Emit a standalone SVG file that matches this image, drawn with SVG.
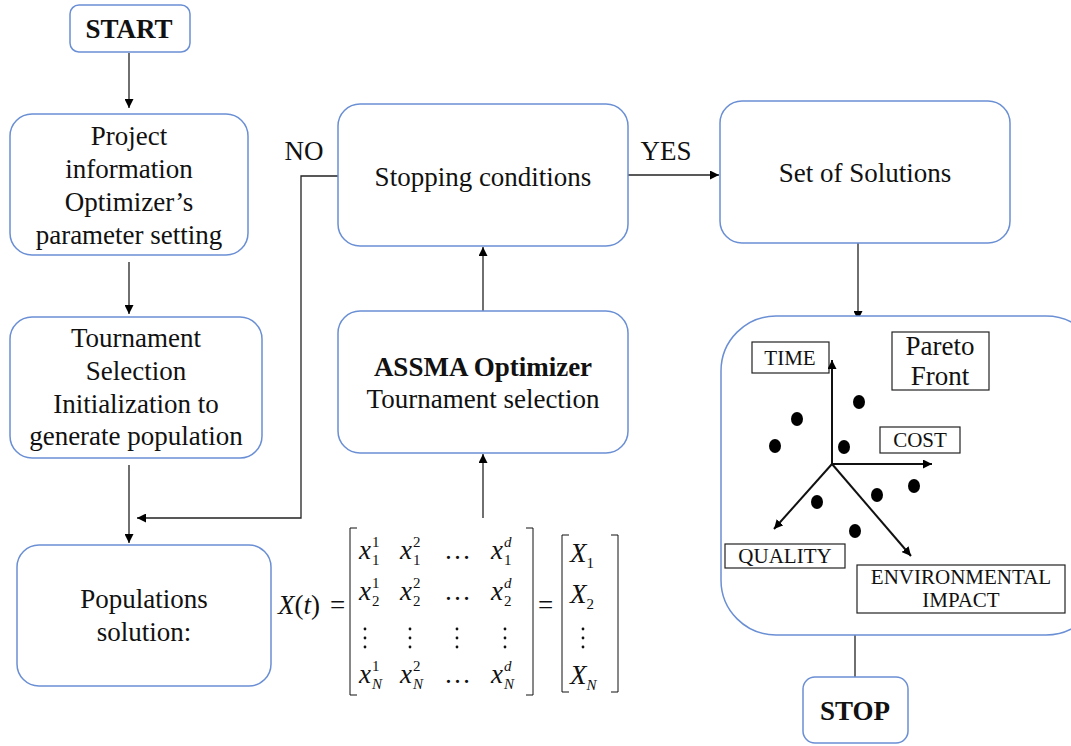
<svg xmlns="http://www.w3.org/2000/svg" width="1071" height="746" viewBox="0 0 1071 746">
<defs>
<marker id="ah" viewBox="0 0 10 10" refX="10" refY="5" markerWidth="9" markerHeight="9" markerUnits="userSpaceOnUse" orient="auto"><path d="M0,0 L10,5 L0,10 z" fill="#000"/></marker>
<style>
.box{fill:#fff;stroke:#6a8fd4;stroke-width:1.5}
.t{font-family:"Liberation Serif","Times New Roman",serif;font-size:27px;fill:#111;text-anchor:middle}
.b{font-weight:bold}
.c{stroke:#222;stroke-width:1.3;fill:none}
.lb{fill:#fff;stroke:#222;stroke-width:1.2}
.s{font-family:"Liberation Serif","Times New Roman",serif;font-size:21px;fill:#111;text-anchor:middle}
.m{font-family:"Liberation Serif","Times New Roman",serif;font-size:27px;fill:#111}
.mi{font-style:italic}
.sub{font-size:15px}
.br{stroke:#111;stroke-width:1;fill:none}
</style>
</defs>
<rect width="1071" height="746" fill="#fff"/>

<g id="connectors">
<path class="c" d="M129,53 V108" marker-end="url(#ah)"/>
<path class="c" d="M129,262 V314" marker-end="url(#ah)"/>
<path class="c" d="M129,465 V543" marker-end="url(#ah)"/>
<path class="c" d="M338,176 H301 V518 H137" marker-end="url(#ah)"/>
<path class="c" d="M628,175 H719" marker-end="url(#ah)"/>
<path class="c" d="M483,311 V247" marker-end="url(#ah)"/>
<path class="c" d="M483,518 V454" marker-end="url(#ah)"/>
<path class="c" d="M858,243 V320" marker-end="url(#ah)"/>
<path class="c" d="M855,635 V677"/>
</g>

<g id="start"><rect class="box" x="70" y="5" width="120" height="47" rx="9"/><text class="t b" x="129" y="38">START</text></g>

<g id="project"><rect class="box" x="10" y="114" width="238" height="141" rx="22"/>
<text class="t" x="129" y="145">Project</text><text class="t" x="129" y="178">information</text><text class="t" x="129" y="211">Optimizer’s</text><text class="t" x="129" y="244">parameter setting</text></g>

<g id="tournament"><rect class="box" x="10" y="317" width="252" height="141" rx="22"/>
<text class="t" x="136" y="347">Tournament</text><text class="t" x="136" y="380">Selection</text><text class="t" x="136" y="413">Initialization to</text><text class="t" x="136" y="445">generate population</text></g>

<g id="populations"><rect class="box" x="17" y="545" width="254" height="141" rx="22"/>
<text class="t" x="144" y="608">Populations</text><text class="t" x="144" y="641">solution:</text></g>

<g id="stopping"><rect class="box" x="338" y="104" width="290" height="142" rx="22"/>
<text class="t" x="483" y="186">Stopping conditions</text></g>
<text class="t" x="304" y="160">NO</text>
<text class="t" x="666" y="160">YES</text>

<g id="assma"><rect class="box" x="338" y="311" width="290" height="142" rx="22"/>
<text class="t b" x="483" y="376">ASSMA Optimizer</text><text class="t" x="483" y="408">Tournament selection</text></g>

<g id="solutions"><rect class="box" x="720" y="101" width="290" height="142" rx="22"/>
<text class="t" x="865" y="182">Set of Solutions</text></g>

<g id="pareto"><rect class="box" x="721" y="316" width="380" height="319" rx="55"/>
<rect class="lb" x="752" y="342" width="77" height="31"/><text class="s" x="790" y="365">TIME</text>
<rect class="lb" x="892" y="332" width="97" height="58"/><text class="t" x="940" y="355">Pareto</text><text class="t" x="940" y="385">Front</text>
<rect class="lb" x="880" y="427" width="80" height="26"/><text class="s" x="920" y="447">COST</text>
<rect class="lb" x="725" y="544" width="120" height="24"/><text class="s" x="785" y="563">QUALITY</text>
<rect class="lb" x="857" y="565" width="208" height="48"/><text class="s" x="961" y="584">ENVIRONMENTAL</text><text class="s" x="961" y="607">IMPACT</text>
<g stroke="#111" stroke-width="2" fill="none">
<path d="M832,464 V360" marker-end="url(#ah)"/>
<path d="M832,464 H932" marker-end="url(#ah)"/>
<path d="M832,464 L774,529" marker-end="url(#ah)"/>
<path d="M832,464 L911,556" marker-end="url(#ah)"/>
</g>
<g fill="#000">
<ellipse cx="859" cy="402" rx="6" ry="7"/><ellipse cx="797" cy="419" rx="6" ry="7"/><ellipse cx="775" cy="446" rx="6" ry="7"/><ellipse cx="844" cy="447" rx="6" ry="7"/>
<ellipse cx="914" cy="486" rx="6" ry="7"/><ellipse cx="877" cy="495" rx="6" ry="7"/><ellipse cx="817" cy="502" rx="6" ry="7"/><ellipse cx="855" cy="531" rx="6" ry="7"/>
</g>
</g>

<g id="stop"><rect class="box" x="803" y="677" width="105" height="66" rx="12"/><text class="t b" x="855" y="720">STOP</text></g>

<g id="matrix">
<text class="m" x="278" y="614"><tspan class="mi">X</tspan>(<tspan class="mi">t</tspan>)</text>
<text class="m" x="330" y="614">=</text>
<path class="br" d="M357,528 H350 V695 H357"/>
<path class="br" d="M526,528 H533 V695 H526"/>
<text class="m" x="538" y="614">=</text>
<path class="br" d="M569,535 H562 V692 H569"/>
<path class="br" d="M611,535 H618 V692 H611"/>
<g class="m">
<text x="359" y="559"><tspan class="mi">x</tspan><tspan class="sub" dy="6" x="372">1</tspan><tspan class="sub" dy="-18" x="372">1</tspan></text>
<text x="400" y="559"><tspan class="mi">x</tspan><tspan class="sub" dy="6" x="413">1</tspan><tspan class="sub" dy="-18" x="413">2</tspan></text>
<text x="444" y="559">…</text>
<text x="491" y="559"><tspan class="mi">x</tspan><tspan class="sub" dy="6" x="504">1</tspan><tspan class="sub mi" dy="-18" x="504">d</tspan></text>
<text x="359" y="600"><tspan class="mi">x</tspan><tspan class="sub" dy="6" x="372">2</tspan><tspan class="sub" dy="-18" x="372">1</tspan></text>
<text x="400" y="600"><tspan class="mi">x</tspan><tspan class="sub" dy="6" x="413">2</tspan><tspan class="sub" dy="-18" x="413">2</tspan></text>
<text x="444" y="600">…</text>
<text x="491" y="600"><tspan class="mi">x</tspan><tspan class="sub" dy="6" x="504">2</tspan><tspan class="sub mi" dy="-18" x="504">d</tspan></text>
<text x="359" y="683"><tspan class="mi">x</tspan><tspan class="sub mi" dy="6" x="372">N</tspan><tspan class="sub" dy="-18" x="372">1</tspan></text>
<text x="400" y="683"><tspan class="mi">x</tspan><tspan class="sub mi" dy="6" x="413">N</tspan><tspan class="sub" dy="-18" x="413">2</tspan></text>
<text x="444" y="683">…</text>
<text x="491" y="683"><tspan class="mi">x</tspan><tspan class="sub mi" dy="6" x="504">N</tspan><tspan class="sub mi" dy="-18" x="504">d</tspan></text>
<text x="570" y="562"><tspan class="mi">X</tspan><tspan class="sub" dy="6">1</tspan></text>
<text x="570" y="603"><tspan class="mi">X</tspan><tspan class="sub" dy="6">2</tspan></text>
<text x="570" y="684"><tspan class="mi">X</tspan><tspan class="sub mi" dy="6">N</tspan></text>
</g>
<g fill="#111">
<circle cx="365" cy="629" r="1.4"/><circle cx="365" cy="638" r="1.4"/><circle cx="365" cy="647" r="1.4"/>
<circle cx="410" cy="629" r="1.4"/><circle cx="410" cy="638" r="1.4"/><circle cx="410" cy="647" r="1.4"/>
<circle cx="457" cy="629" r="1.4"/><circle cx="457" cy="638" r="1.4"/><circle cx="457" cy="647" r="1.4"/>
<circle cx="505" cy="629" r="1.4"/><circle cx="505" cy="638" r="1.4"/><circle cx="505" cy="647" r="1.4"/>
<circle cx="583" cy="629" r="1.4"/><circle cx="583" cy="638" r="1.4"/><circle cx="583" cy="647" r="1.4"/>
</g>
</g>
</svg>
